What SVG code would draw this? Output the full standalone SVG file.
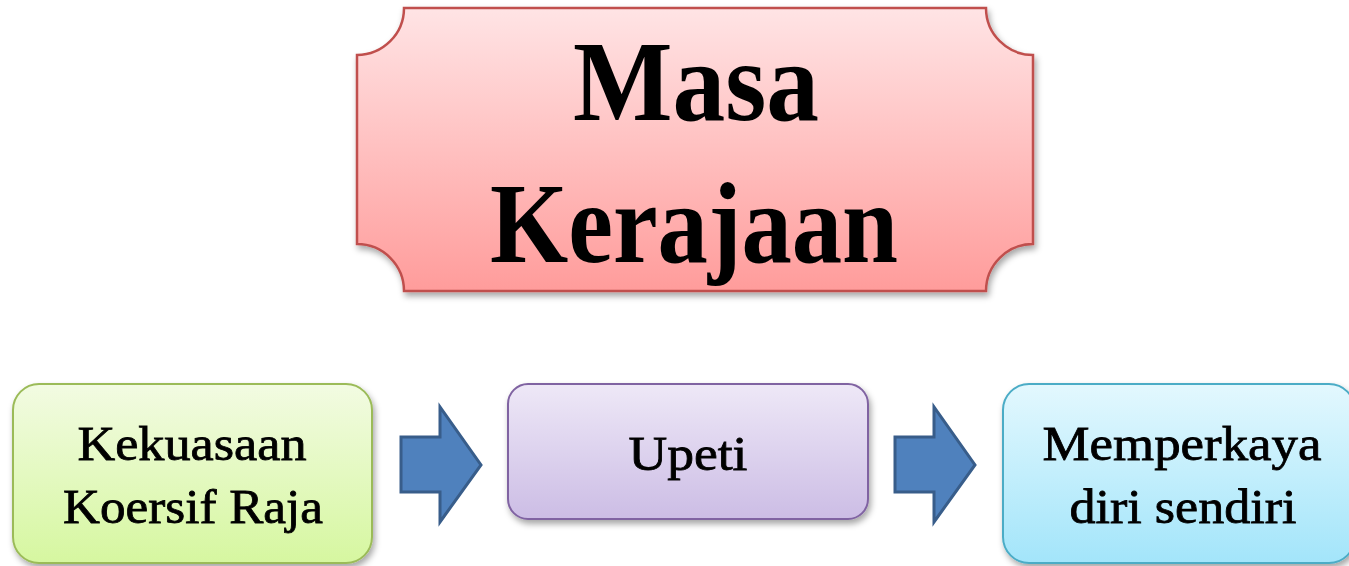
<svg xmlns="http://www.w3.org/2000/svg" width="1349" height="566" viewBox="0 0 1349 566">
<defs>
<linearGradient id="gRed" x1="0" y1="0" x2="0" y2="1"><stop offset="0" stop-color="#FFE4E5"/><stop offset="1" stop-color="#FF9C9B"/></linearGradient>
<linearGradient id="gGreen" x1="0" y1="0" x2="0" y2="1"><stop offset="0" stop-color="#F2FBE2"/><stop offset="1" stop-color="#D6F7A0"/></linearGradient>
<linearGradient id="gPurple" x1="0" y1="0" x2="0" y2="1"><stop offset="0" stop-color="#EEE8F7"/><stop offset="1" stop-color="#CCBDE5"/></linearGradient>
<linearGradient id="gBlue" x1="0" y1="0" x2="0" y2="1"><stop offset="0" stop-color="#E3F8FE"/><stop offset="1" stop-color="#A3E5FA"/></linearGradient>
<filter id="sh" x="-10%" y="-10%" width="125%" height="130%"><feDropShadow dx="2" dy="4" stdDeviation="3" flood-color="#000" flood-opacity="0.35"/></filter>
</defs>
<style>
.t{font-family:"Liberation Serif","Times New Roman",serif;fill:#000;text-anchor:middle}
.big{font-size:114px;font-weight:bold}
.sm{font-size:48px;stroke:#000;stroke-width:0.8}
.arrow{fill:#4F81BD;stroke:#385D8A;stroke-width:3;stroke-linejoin:miter}
</style>
<g id="title">
<path d="M404,8 H986 A47,47 0 0 0 1033,55 V244 A47,47 0 0 0 986,291 H404 A47,47 0 0 0 357,244 V55 A47,47 0 0 0 404,8 Z" fill="url(#gRed)" stroke="#C0504D" stroke-width="2.5" filter="url(#sh)"/>
<text class="t big" x="696" y="120" textLength="246" lengthAdjust="spacingAndGlyphs">Masa</text>
<text class="t big" x="694" y="262" textLength="408" lengthAdjust="spacingAndGlyphs">Kerajaan</text>
</g>
<g id="node1">
<rect x="13" y="384" width="359" height="179" rx="26" fill="url(#gGreen)" stroke="#9BBB59" stroke-width="2" filter="url(#sh)"/>
<text class="t sm" x="192" y="460" textLength="229" lengthAdjust="spacingAndGlyphs">Kekuasaan</text>
<text class="t sm" x="193" y="523" textLength="260" lengthAdjust="spacingAndGlyphs">Koersif Raja</text>
</g>
<g id="node2">
<rect x="508" y="384" width="360" height="135" rx="20" fill="url(#gPurple)" stroke="#8064A2" stroke-width="2" filter="url(#sh)"/>
<text class="t sm" x="688" y="470" textLength="119" lengthAdjust="spacingAndGlyphs">Upeti</text>
</g>
<g id="node3">
<rect x="1003" y="384" width="352" height="179" rx="26" fill="url(#gBlue)" stroke="#4BACC6" stroke-width="2" filter="url(#sh)"/>
<text class="t sm" x="1182" y="460" textLength="279" lengthAdjust="spacingAndGlyphs">Memperkaya</text>
<text class="t sm" x="1183" y="523" textLength="227" lengthAdjust="spacingAndGlyphs">diri sendiri</text>
</g>
<g id="connectors">
<path class="arrow" d="M401,437 H440 V407 L481,465 L440,522 V492 H401 Z"/>
<path class="arrow" d="M895,437 H934 V407 L975,465 L934,522 V492 H895 Z"/>
</g>
</svg>
